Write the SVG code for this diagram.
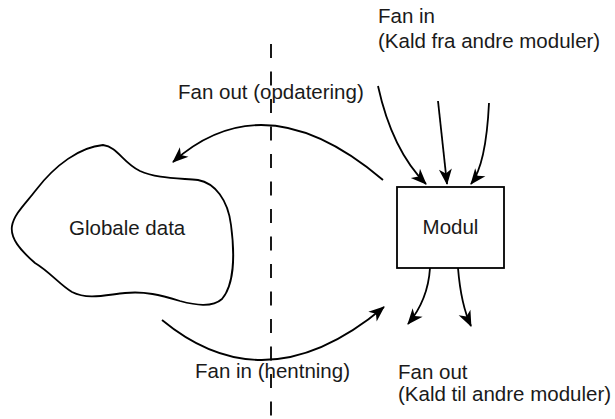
<svg xmlns="http://www.w3.org/2000/svg" width="615" height="419" viewBox="0 0 615 419">
<style>
text{font-family:"Liberation Sans",Arial,sans-serif;font-size:20.5px;fill:#1a1a1a}
.ln{fill:none;stroke:#000;stroke-width:1.8}
.arr{fill:none;stroke:#000;stroke-width:1.8;marker-end:url(#ah)}
</style>
<defs>
<marker id="ah" markerUnits="userSpaceOnUse" viewBox="-17 -7 19 14" markerWidth="19" markerHeight="14" refX="0" refY="0" orient="auto">
<path d="M1,0 L-15,-6.5 L-10.5,0 L-15,6.5 Z" fill="#000"/>
</marker>
</defs>
<rect width="615" height="419" fill="#fff"/>
<g id="divider">
<line x1="271" y1="44" x2="271" y2="419" class="ln" stroke-dasharray="14 13.5"/>
</g>
<g id="globale-data">
<path class="ln" d="M103,145 C118,147 122,162 140,171 C155,178 175,178 198,180 C215,183 228,200 231,225 C235,255 234,285 222,299 C212,308 195,305 180,301 C160,295 145,291 125,293 C105,295 88,300 72,292 C60,285 50,272 35,263 C20,250 10,238 12,226 C14,214 26,203 36,190 C55,165 80,147 103,145 Z"/>
<text x="69" y="235">Globale data</text>
</g>
<g id="modul">
<rect x="397" y="187" width="107" height="81" class="ln"/>
<text x="450.5" y="234" text-anchor="middle">Modul</text>
</g>
<g id="connectors">
<path class="arr" d="M383,180 Q265,80 173,162"/>
<path class="arr" d="M162,320 Q266,406 384,307"/>
<path class="arr" d="M378,86 Q392,150 426,184"/>
<path class="arr" d="M438,101 L447,184"/>
<path class="arr" d="M489,103 Q486,165 471,184"/>
<path class="arr" d="M430,268 Q428,300 408,324"/>
<path class="arr" d="M458,268 Q461,305 471,326"/>
</g>
<g id="labels">
<text x="378" y="23">Fan in</text>
<text x="378" y="48">(Kald fra andre moduler)</text>
<text x="178" y="99">Fan out (opdatering)</text>
<text x="195" y="378">Fan in (hentning)</text>
<text x="398" y="379">Fan out</text>
<text x="398" y="401">(Kald til andre moduler)</text>
</g>
</svg>
